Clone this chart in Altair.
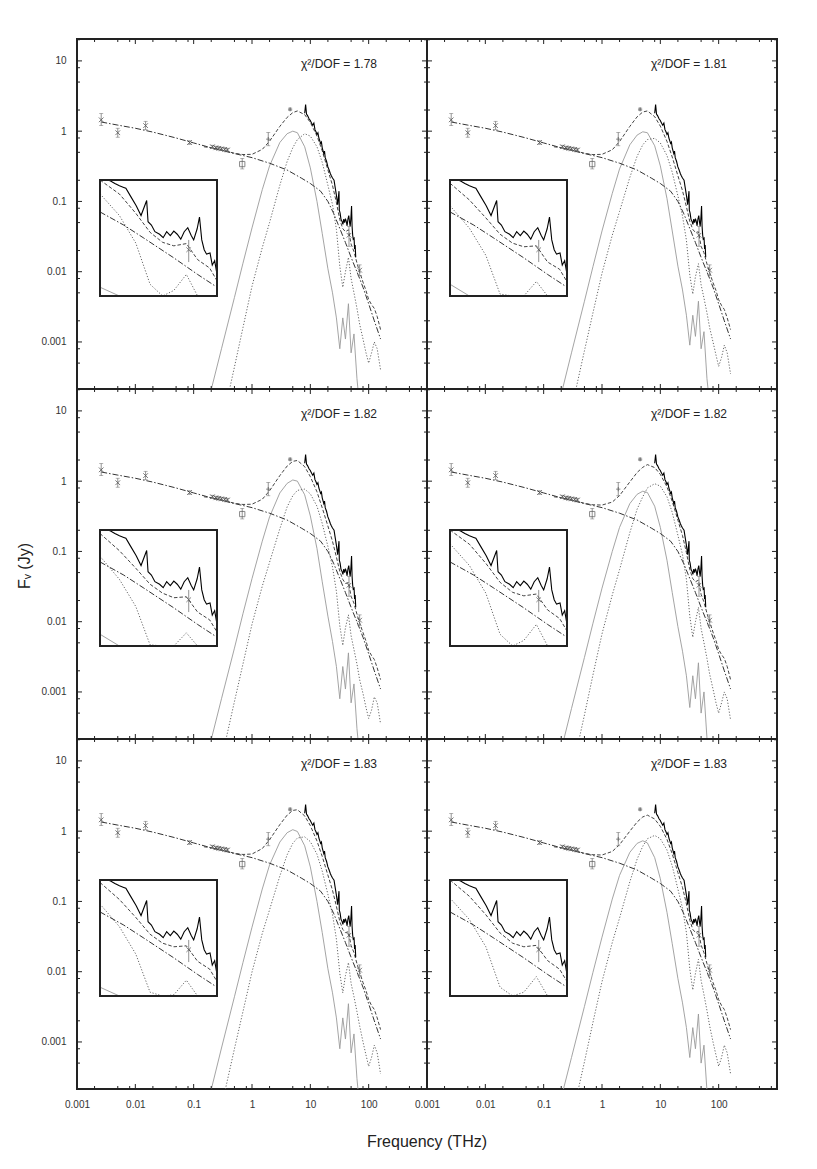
import altair as alt
import pandas as pd

FONT = "Liberation Sans"

# ---------------- data ----------------
FREQ_GRID = [0.15, 0.2, 0.3, 0.5, 0.7, 1, 1.5, 2, 3, 4, 5, 6, 8, 10, 13, 16, 20, 24, 28, 32,
             36, 40, 45, 50, 56, 63, 70, 80, 90, 100, 112, 125, 140, 160]

SYNC_FREQ = [0.0026, 0.005, 0.01, 0.02, 0.05, 0.1, 0.2, 0.5, 1, 2, 4, 7, 10, 15, 20, 25, 30,
             40, 50, 60, 70, 80, 100, 125, 160]
SYNC_FLUX = [1.35, 1.22, 1.1, 0.97, 0.8, 0.68, 0.58, 0.48, 0.42, 0.35, 0.28, 0.215, 0.18, 0.14,
             0.1, 0.068, 0.047, 0.026, 0.016, 0.011, 0.008, 0.006, 0.0035, 0.002, 0.0011]

SPEC_FREQ = [8.0, 8.3, 8.6, 9.0, 9.5, 10.0, 10.5, 11.0, 11.5, 12.0, 12.5, 13.0, 13.5, 14.0, 15.0,
             15.5, 16.0, 17.0, 17.5, 18.0, 19.0, 20.0, 21.0, 22.0, 23.0, 24.0, 25.0, 25.5, 26.6,
             28.1, 29.4, 31.0, 31.4, 32.4, 33.5, 35.0, 36.2, 37.4, 38.7, 40.0, 41.3, 42.7, 44.1,
             45.6, 47.1, 48.2, 49.8, 50.9, 52.0, 53.2, 54.4, 56.2, 57.4, 58.7, 60.0]
SPEC_FLUX = [1.8, 2.4, 1.75, 1.65, 1.5, 1.42, 1.3, 1.22, 1.3, 1.05, 0.98, 0.9, 0.95, 0.8, 0.67,
             0.7, 0.58, 0.48, 0.52, 0.42, 0.37, 0.31, 0.28, 0.25, 0.23, 0.215, 0.205, 0.2, 0.16,
             0.12, 0.09, 0.14, 0.075, 0.068, 0.056, 0.052, 0.047, 0.056, 0.050, 0.057, 0.052,
             0.045, 0.056, 0.063, 0.050, 0.044, 0.061, 0.086, 0.044, 0.033, 0.029, 0.030, 0.021,
             0.024, 0.016]

# dust component A (solid grey) per panel
DUST_A_1 = [8e-5, 2.1e-4, 8e-4, 4.3e-3, 0.0132, 0.042, 0.147, 0.32, 0.69, 0.92, 1.0, 0.95, 0.6,
            0.3, 0.1, 0.035, 0.011, 0.005, 0.0022, 0.0008, 0.0022, 0.0011, 0.0035, 0.0007, 0.0013,
            0.0003, 0.00012, 5e-5, 5e-5, 5e-5, 5e-5, 5e-5, 5e-5, 5e-5]
DUST_A_2 = [7e-5, 1.8e-4, 7e-4, 3.8e-3, 0.0118, 0.038, 0.13, 0.29, 0.64, 0.88, 0.98, 0.95, 0.62,
            0.32, 0.11, 0.038, 0.012, 0.0055, 0.0024, 0.0009, 0.0024, 0.0012, 0.0038, 0.0008,
            0.0014, 0.0003, 0.00013, 5e-5, 5e-5, 5e-5, 5e-5, 5e-5, 5e-5, 5e-5]
DUST_A_3 = [8e-5, 2.1e-4, 8e-4, 4.2e-3, 0.013, 0.041, 0.14, 0.31, 0.68, 0.93, 1.04, 1.0, 0.64,
            0.32, 0.11, 0.037, 0.012, 0.0052, 0.0023, 0.0008, 0.0023, 0.0011, 0.0036, 0.0007,
            0.0013, 0.0003, 0.00012, 5e-5, 5e-5, 5e-5, 5e-5, 5e-5, 5e-5, 5e-5]
DUST_A_4 = [6e-5, 1.5e-4, 5.8e-4, 3.1e-3, 0.0095, 0.03, 0.1, 0.22, 0.48, 0.65, 0.72, 0.69, 0.44,
            0.22, 0.075, 0.026, 0.0085, 0.0038, 0.0017, 0.0006, 0.0017, 0.0008, 0.0026, 0.0005,
            0.001, 0.00022, 9e-5, 5e-5, 5e-5, 5e-5, 5e-5, 5e-5, 5e-5, 5e-5]
DUST_A_5 = [8e-5, 2.1e-4, 8.2e-4, 4.4e-3, 0.0135, 0.043, 0.15, 0.33, 0.7, 0.95, 1.05, 0.99, 0.62,
            0.31, 0.1, 0.036, 0.011, 0.005, 0.0022, 0.0008, 0.0022, 0.0011, 0.0035, 0.0007,
            0.0013, 0.0003, 0.00012, 5e-5, 5e-5, 5e-5, 5e-5, 5e-5, 5e-5, 5e-5]
DUST_A_6 = [6.5e-5, 1.6e-4, 6e-4, 3.2e-3, 0.0098, 0.031, 0.108, 0.235, 0.5, 0.67, 0.73, 0.68,
            0.42, 0.21, 0.07, 0.025, 0.008, 0.0036, 0.0016, 0.0006, 0.0016, 0.0008, 0.0025,
            0.0005, 0.0009, 0.0002, 9e-5, 5e-5, 5e-5, 5e-5, 5e-5, 5e-5, 5e-5, 5e-5]

# dust component B (dotted) per panel
DUST_B_1 = [5e-6, 1.4e-5, 6.4e-5, 4.4e-4, 1.6e-3, 6.2e-3, 0.022, 0.05, 0.17, 0.37, 0.58, 0.76,
            0.92, 0.85, 0.6, 0.36, 0.17, 0.09, 0.04, 0.012, 0.006, 0.01, 0.016, 0.008, 0.005,
            0.003, 0.0018, 0.0011, 0.0007, 0.0005, 0.0007, 0.001, 0.0008, 0.0004]
DUST_B_2 = [8e-6, 2.3e-5, 1.1e-4, 7.5e-4, 2.6e-3, 9.5e-3, 0.033, 0.072, 0.22, 0.44, 0.64, 0.76,
            0.79, 0.68, 0.45, 0.26, 0.12, 0.062, 0.028, 0.009, 0.0048, 0.0085, 0.013, 0.0065,
            0.0042, 0.0026, 0.0016, 0.001, 0.00065, 0.00045, 0.0006, 0.0009, 0.0007, 0.00035]
DUST_B_3 = [8e-6, 2.2e-5, 1.1e-4, 7.3e-4, 2.5e-3, 9.2e-3, 0.032, 0.07, 0.21, 0.43, 0.62, 0.74,
            0.77, 0.66, 0.44, 0.25, 0.118, 0.06, 0.027, 0.0088, 0.0046, 0.0082, 0.0125, 0.0063,
            0.004, 0.0025, 0.0015, 0.00095, 0.0006, 0.00042, 0.00055, 0.00085, 0.0007, 0.00035]
DUST_B_4 = [5e-6, 1.5e-5, 6.8e-5, 4.7e-4, 1.75e-3, 6.7e-3, 0.024, 0.055, 0.185, 0.4, 0.6, 0.8,
            0.92, 0.85, 0.6, 0.36, 0.17, 0.09, 0.04, 0.012, 0.006, 0.01, 0.016, 0.008, 0.005,
            0.003, 0.0018, 0.0011, 0.0007, 0.0005, 0.0007, 0.001, 0.0008, 0.0004]
DUST_B_5 = [8e-6, 2.4e-5, 1.2e-4, 8e-4, 2.7e-3, 9.9e-3, 0.035, 0.076, 0.23, 0.46, 0.67, 0.8,
            0.83, 0.71, 0.47, 0.27, 0.126, 0.065, 0.029, 0.0095, 0.005, 0.0088, 0.0135, 0.0068,
            0.0044, 0.0027, 0.0017, 0.001, 0.00065, 0.00045, 0.0006, 0.0009, 0.0007, 0.00035]
DUST_B_6 = [6e-6, 1.7e-5, 7.8e-5, 5.2e-4, 1.9e-3, 7.2e-3, 0.026, 0.058, 0.19, 0.4, 0.61, 0.78,
            0.87, 0.78, 0.54, 0.32, 0.15, 0.08, 0.036, 0.011, 0.0055, 0.0095, 0.015, 0.0075,
            0.0047, 0.0028, 0.0017, 0.001, 0.00065, 0.00045, 0.0006, 0.0009, 0.0007, 0.00035]

# total model (dashed) per panel
TOTAL_1 = [0.6, 0.58, 0.541, 0.485, 0.465, 0.468, 0.55, 0.72, 1.17, 1.57, 1.835, 1.94, 1.72,
           1.33, 0.855, 0.525, 0.281, 0.169, 0.096, 0.055, 0.041, 0.037, 0.0395, 0.0247, 0.0193,
           0.0133, 0.0099, 0.0071, 0.0054, 0.004, 0.0034, 0.003, 0.0023, 0.0015]
TOTAL_2 = [0.6, 0.58, 0.541, 0.485, 0.464, 0.468, 0.543, 0.712, 1.17, 1.6, 1.875, 1.94, 1.61,
           1.18, 0.715, 0.428, 0.232, 0.142, 0.084, 0.052, 0.040, 0.036, 0.037, 0.023, 0.0186,
           0.0129, 0.0097, 0.007, 0.0054, 0.004, 0.0033, 0.0029, 0.0022, 0.0015]
TOTAL_3 = [0.6, 0.58, 0.541, 0.485, 0.466, 0.47, 0.552, 0.73, 1.2, 1.64, 1.915, 1.97, 1.61,
           1.16, 0.705, 0.417, 0.23, 0.139, 0.083, 0.052, 0.040, 0.035, 0.036, 0.023, 0.0183,
           0.0128, 0.0096, 0.007, 0.0053, 0.0039, 0.0033, 0.0029, 0.0022, 0.0015]
TOTAL_4 = [0.6, 0.58, 0.541, 0.484, 0.461, 0.457, 0.504, 0.625, 0.975, 1.33, 1.575, 1.72, 1.56,
           1.25, 0.83, 0.516, 0.279, 0.168, 0.096, 0.055, 0.041, 0.037, 0.039, 0.0245, 0.019,
           0.0132, 0.0099, 0.0071, 0.0054, 0.004, 0.0034, 0.003, 0.0023, 0.0015]
TOTAL_5 = [0.6, 0.58, 0.541, 0.485, 0.466, 0.473, 0.565, 0.756, 1.24, 1.69, 1.975, 2.02, 1.65,
           1.2, 0.725, 0.436, 0.237, 0.144, 0.085, 0.052, 0.040, 0.036, 0.037, 0.0235, 0.0187,
           0.013, 0.0098, 0.007, 0.0054, 0.004, 0.0033, 0.0029, 0.0022, 0.0015]
TOTAL_6 = [0.6, 0.58, 0.541, 0.484, 0.462, 0.458, 0.514, 0.643, 1.0, 1.35, 1.595, 1.69, 1.49,
           1.17, 0.765, 0.475, 0.258, 0.158, 0.092, 0.054, 0.040, 0.036, 0.0375, 0.024, 0.0186,
           0.013, 0.0098, 0.007, 0.0054, 0.004, 0.0033, 0.0029, 0.0022, 0.0015]

CHI2_LABELS = ["χ²/DOF = 1.78", "χ²/DOF = 1.81", "χ²/DOF = 1.82",
               "χ²/DOF = 1.82", "χ²/DOF = 1.83", "χ²/DOF = 1.83"]

# photometric points
X_FREQ = [0.0026, 0.005, 0.015, 0.085, 0.21, 0.24, 0.27, 0.30, 0.34, 0.38, 46.0, 70.0]
X_FLUX = [1.45, 0.95, 1.2, 0.69, 0.60, 0.58, 0.57, 0.56, 0.55, 0.54, 0.033, 0.0105]
X_LOW = [1.2, 0.82, 1.05, 0.65, 0.57, 0.55, 0.54, 0.53, 0.52, 0.51, 0.023, 0.0088]
X_HIGH = [1.78, 1.1, 1.38, 0.73, 0.63, 0.61, 0.60, 0.59, 0.58, 0.57, 0.044, 0.0125]
SQ_FREQ = [0.68]
SQ_FLUX = [0.34]
SQ_LOW = [0.29]
SQ_HIGH = [0.41]
PLUS_FREQ = [1.9, 4.5]
PLUS_FLUX = [0.77, 2.05]
PLUS_LOW = [0.62, 1.97]
PLUS_HIGH = [0.96, 2.13]

# axes
X_LABEL_VALUES = [0.001, 0.01, 0.1, 1, 10, 100]
Y_LABEL_VALUES = [0.001, 0.01, 0.1, 1, 10]
X_TICKS_MAJOR = [0.001, 0.01, 0.1, 1, 10, 100, 1000]
X_TICKS_MINOR = [0.002, 0.005, 0.008, 0.02, 0.05, 0.08, 0.2, 0.5, 0.8, 2, 5, 8,
                 20, 50, 80, 200, 500, 800]
Y_TICKS_MAJOR = [0.001, 0.01, 0.1, 1, 10]
Y_TICKS_MINOR = [0.0005, 0.0008, 0.002, 0.005, 0.008, 0.02, 0.05, 0.08, 0.2, 0.5, 0.8,
                 2, 5, 8, 20]

DUST_A = [DUST_A_1, DUST_A_2, DUST_A_3, DUST_A_4, DUST_A_5, DUST_A_6]
DUST_B = [DUST_B_1, DUST_B_2, DUST_B_3, DUST_B_4, DUST_B_5, DUST_B_6]
TOTALS = [TOTAL_1, TOTAL_2, TOTAL_3, TOTAL_4, TOTAL_5, TOTAL_6]

# ---------------- frames ----------------
sync_df = pd.DataFrame({"f": SYNC_FREQ, "F": SYNC_FLUX})
spec_df = pd.DataFrame({"f": SPEC_FREQ, "F": SPEC_FLUX})
x_df = pd.DataFrame({"f": X_FREQ, "F": X_FLUX, "lo": X_LOW, "hi": X_HIGH})
sq_df = pd.DataFrame({"f": SQ_FREQ, "F": SQ_FLUX, "lo": SQ_LOW, "hi": SQ_HIGH})
plus_df = pd.DataFrame({"f": PLUS_FREQ, "F": PLUS_FLUX, "lo": PLUS_LOW, "hi": PLUS_HIGH})
err_df = pd.concat([x_df, sq_df, plus_df], ignore_index=True)
one_df = pd.DataFrame({"a": [0]})

PW, PH = 350, 350
AX = "#222222"
X_PATH = "M-1,-1L1,1M-1,1L1,-1"
PLUS_PATH = "M-1,0L1,0M0,-1L0,1"
IN_X0, IN_X1, IN_Y0, IN_Y1 = 23, 140, 141, 257


def panel(i, left, bottom):
    xs = alt.Scale(type="log", domain=[0.001, 1000], nice=False)
    ys = alt.Scale(type="log", domain=[2.14e-4, 20.5], nice=False)
    xax = alt.Axis(values=X_LABEL_VALUES, labelExpr="format(datum.value, '~g')", ticks=False,
                   tickSize=0, domain=False, grid=False, labelPadding=10, labelFlush=False,
                   labelOverlap=False, labelFontSize=10, labelColor="#333", labelFont=FONT,
                   title=None) if bottom else None
    yax = alt.Axis(values=Y_LABEL_VALUES, labelExpr="format(datum.value, '~g')", ticks=False,
                   tickSize=0, domain=False, grid=False, labelPadding=11, labelFlush=False,
                   labelOverlap=False, labelFontSize=10, labelColor="#333", labelFont=FONT,
                   title=None) if left else None

    def X(c):
        return alt.X(f"{c}:Q", scale=xs, axis=xax)

    def Y(c):
        return alt.Y(f"{c}:Q", scale=ys, axis=yax)

    g = pd.DataFrame({"f": FREQ_GRID, "A": DUST_A[i], "B": DUST_B[i], "T": TOTALS[i]})

    layers = [
        alt.Chart(g).mark_line(color="#9a9a9a", strokeWidth=0.9, clip=True).encode(x=X("f"), y=Y("A")),
        alt.Chart(g).mark_line(color="#666", strokeWidth=1, strokeDash=[1.2, 1.8], clip=True).encode(x=X("f"), y=Y("B")),
        alt.Chart(sync_df).mark_line(color="#333", strokeWidth=1, strokeDash=[6, 2, 1.5, 2], clip=True).encode(x=X("f"), y=Y("F")),
        alt.Chart(g).mark_line(color="#444", strokeWidth=1, strokeDash=[3.5, 2], clip=True).encode(x=X("f"), y=Y("T")),
        alt.Chart(spec_df).mark_line(color="#000", strokeWidth=1.1, clip=True).encode(x=X("f"), y=Y("F")),
        alt.Chart(err_df).mark_rule(color="#777", strokeWidth=0.8, clip=True).encode(x=X("f"), y=Y("lo"), y2="hi:Q"),
        alt.Chart(err_df).mark_tick(color="#777", orient="horizontal", size=4, thickness=0.8, clip=True).encode(x=X("f"), y=Y("lo")),
        alt.Chart(err_df).mark_tick(color="#777", orient="horizontal", size=4, thickness=0.8, clip=True).encode(x=X("f"), y=Y("hi")),
        alt.Chart(x_df).mark_point(shape=X_PATH, filled=False, size=22, strokeWidth=1, color="#444", clip=True).encode(x=X("f"), y=Y("F")),
        alt.Chart(sq_df).mark_point(shape="square", filled=False, size=28, strokeWidth=1, color="#555", clip=True).encode(x=X("f"), y=Y("F")),
        alt.Chart(plus_df).mark_point(shape=PLUS_PATH, filled=False, size=18, strokeWidth=1, color="#555", clip=True).encode(x=X("f"), y=Y("F")),
    ]
    # inside ticks on all four sides
    ymaj = pd.DataFrame({"v": Y_TICKS_MAJOR})
    ymin = pd.DataFrame({"v": Y_TICKS_MINOR})
    xmaj = pd.DataFrame({"v": X_TICKS_MAJOR})
    xmin = pd.DataFrame({"v": X_TICKS_MINOR})
    for d, ln in ((ymaj, 5), (ymin, 3)):
        layers.append(alt.Chart(d).mark_rule(color=AX, strokeWidth=1).encode(
            y=Y("v"), x=alt.value(0), x2=alt.value(ln)))
        layers.append(alt.Chart(d).mark_rule(color=AX, strokeWidth=1).encode(
            y=Y("v"), x=alt.value(PW), x2=alt.value(PW - ln)))
    for d, ln in ((xmaj, 5), (xmin, 3)):
        layers.append(alt.Chart(d).mark_rule(color=AX, strokeWidth=1).encode(
            x=X("v"), y=alt.value(0), y2=alt.value(ln)))
        layers.append(alt.Chart(d).mark_rule(color=AX, strokeWidth=1).encode(
            x=X("v"), y=alt.value(PH), y2=alt.value(PH - ln)))

    layers.append(alt.Chart(pd.DataFrame({"t": [CHI2_LABELS[i]]})).mark_text(
        font=FONT, fontSize=12, color="#222", align="center", baseline="middle").encode(
        text="t:N", x=alt.value(262), y=alt.value(25)))

    if i == 2:
        layers.append(alt.Chart(pd.DataFrame({"t": ["Fᵥ (Jy)"]})).mark_text(
            font=FONT, fontSize=16, color="#222", align="center", baseline="middle", angle=270).encode(
            text="t:N", x=alt.value(-52), y=alt.value(177)))
    if i == 4:
        layers.append(alt.Chart(pd.DataFrame({"t": ["Frequency (THz)"]})).mark_text(
            font=FONT, fontSize=16, color="#222", align="center", baseline="middle").encode(
            text="t:N", x=alt.value(PW), y=alt.value(403)))

    main = alt.layer(*layers)

    # ---------- inset ----------
    ixs = alt.Scale(type="log", domain=[20, 60], range=[IN_X0, IN_X1], clamp=True, nice=False)
    iys = alt.Scale(type="log", domain=[0.0085, 0.255], range=[IN_Y1, IN_Y0], clamp=True, nice=False)

    def IX(c):
        return alt.X(f"{c}:Q", scale=ixs, axis=None)

    def IY(c):
        return alt.Y(f"{c}:Q", scale=iys, axis=None)

    flt = "datum.f >= 19 && datum.f <= 64"
    inset_layers = [
        alt.Chart(one_df).mark_rect(fill="white").encode(
            x=alt.value(IN_X0), x2=alt.value(IN_X1), y=alt.value(IN_Y0), y2=alt.value(IN_Y1)),
        alt.Chart(g).transform_filter(flt).mark_line(color="#9a9a9a", strokeWidth=0.9).encode(x=IX("f"), y=IY("A")),
        alt.Chart(g).transform_filter(flt).mark_line(color="#666", strokeWidth=1, strokeDash=[1.2, 1.8]).encode(x=IX("f"), y=IY("B")),
        alt.Chart(sync_df).transform_filter(flt).mark_line(color="#333", strokeWidth=1, strokeDash=[6, 2, 1.5, 2]).encode(x=IX("f"), y=IY("F")),
        alt.Chart(g).transform_filter(flt).mark_line(color="#444", strokeWidth=1, strokeDash=[3.5, 2]).encode(x=IX("f"), y=IY("T")),
        alt.Chart(spec_df).transform_filter(flt).mark_line(color="#000", strokeWidth=1.1).encode(x=IX("f"), y=IY("F")),
        alt.Chart(x_df).transform_filter(flt).mark_rule(color="#777", strokeWidth=0.8).encode(x=IX("f"), y=IY("lo"), y2="hi:Q"),
        alt.Chart(x_df).transform_filter(flt).mark_point(shape=X_PATH, filled=False, size=22, strokeWidth=1, color="#555").encode(x=IX("f"), y=IY("F")),
        alt.Chart(one_df).mark_rect(fillOpacity=0, stroke="#222", strokeWidth=2).encode(
            x=alt.value(IN_X0), x2=alt.value(IN_X1), y=alt.value(IN_Y0), y2=alt.value(IN_Y1)),
    ]
    inset = alt.layer(*inset_layers)

    return alt.layer(main, inset).resolve_scale(x="independent", y="independent").properties(
        width=PW, height=PH)


panels = [panel(i, i % 2 == 0, i >= 4) for i in range(6)]

chart = alt.concat(*panels, columns=2, spacing=0, bounds="flush").properties(
    padding={"left": 8, "top": 29, "right": 10, "bottom": 10}
).configure(font=FONT).configure_view(stroke="#222", strokeWidth=2)

chart.save("out.html", embed_options={"renderer": "svg", "actions": False})
